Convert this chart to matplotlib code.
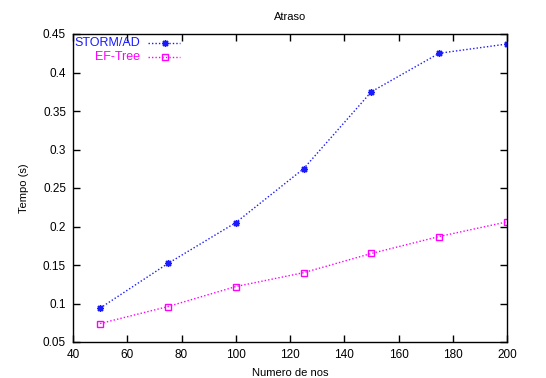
import matplotlib
matplotlib.use("Agg")
import matplotlib.pyplot as plt

plt.rcParams['font.family'] = ['Liberation Sans', 'DejaVu Sans']

nodes = [50, 75, 100, 125, 150, 175, 200]
storm = [0.094, 0.152, 0.205, 0.275, 0.375, 0.425, 0.437]
eftree = [0.074, 0.096, 0.122, 0.140, 0.165, 0.187, 0.206]

blue = '#1a1aff'
magenta = '#ff00ff'

fig = plt.figure(figsize=(5.46, 3.78), dpi=100)
ax = fig.add_axes([73/546, 1-342/378, (507-73)/546, (342-34)/378])

ax.plot(nodes, storm, color=blue, linestyle=(0, (1, 1.5)), linewidth=1,
        marker=(8, 2, 0), markersize=5, markeredgewidth=1)
ax.plot(nodes, eftree, color=magenta, linestyle=(0, (1, 1.5)), linewidth=1,
        marker='s', markersize=5, markerfacecolor='none', markeredgewidth=1)

ax.set_xlim(40, 200)
ax.set_ylim(0.05, 0.45)
ax.set_xticks(range(40, 201, 20))
ax.set_yticks([0.05, 0.1, 0.15, 0.2, 0.25, 0.3, 0.35, 0.4, 0.45])
ax.set_yticklabels(['0.05', '0.1', '0.15', '0.2', '0.25', '0.3', '0.35', '0.4', '0.45'])
ax.tick_params(direction='in', top=True, right=True, length=5, width=1,
               labelsize=8.5, pad=5)
for s in ax.spines.values():
    s.set_linewidth(1)

ax.set_title('Atraso', fontsize=8, pad=10)
ax.set_xlabel('Numero de nos', fontsize=8, labelpad=5)
ax.set_ylabel('Tempo (s)', fontsize=8, labelpad=10)

# legend, gnuplot style (text right-aligned, sample after it)
tr = ax.transAxes
x_txt = (140-73)/434
y1 = 1-(43-34)/308
y2 = 1-(57-34)/308
xs0, xs1 = (148-73)/434, (180-73)/434
xm = (165-73)/434
ax.text(x_txt, y1, 'STORM/AD', color=blue, fontsize=9, ha='right', va='center', transform=tr)
ax.text(x_txt, y2, 'EF-Tree', color=magenta, fontsize=9, ha='right', va='center', transform=tr)
ax.plot([xs0, xs1], [y1, y1], color=blue, linestyle=(0, (1, 1.5)), linewidth=1, transform=tr, clip_on=False)
ax.plot([xm], [y1], color=blue, marker=(8, 2, 0), markersize=5, transform=tr, clip_on=False)
ax.plot([xs0, xs1], [y2, y2], color=magenta, linestyle=(0, (1, 1.5)), linewidth=1, transform=tr, clip_on=False)
ax.plot([xm], [y2], color=magenta, marker='s', markersize=5, markerfacecolor='none', transform=tr, clip_on=False)

fig.savefig('out.png', dpi=100)
